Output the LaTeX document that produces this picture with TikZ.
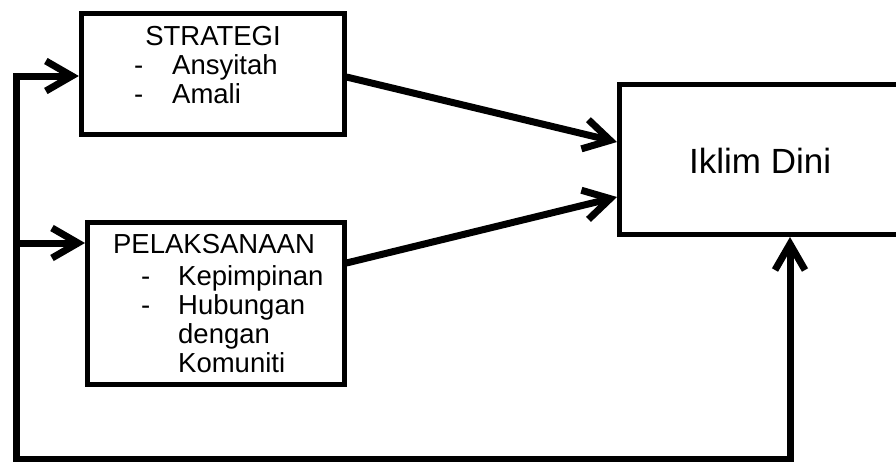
\documentclass[tikz,border=0pt]{standalone}
\usepackage{fontspec}
\setmainfont{Liberation Sans}
\usetikzlibrary{arrows.meta}
\begin{document}
\begin{tikzpicture}[x=1pt,y=-1pt,
  box/.style={draw, line width=5pt, inner sep=0pt, rectangle},
  tipa/.style={-{Straight Barb[length=26pt,width=30pt]}},
  conn/.style={line width=7pt, tipa},
  txt/.style={inner sep=0pt, anchor=base west, font=\fontsize{27.5}{32}\selectfont},
  ctxt/.style={inner sep=0pt, anchor=base, font=\fontsize{27.5}{32}\selectfont}]
\useasboundingbox (0,0) rectangle (896,461);
% boxes
\node[box, minimum width=262.7pt, minimum height=120.5pt] (strat) at (212.7,73.75) {};
\node[box, minimum width=256.5pt, minimum height=161.5pt] (pel) at (215.75,303.25) {};
\node[box, minimum width=290.5pt, minimum height=150.5pt] (iklim) at (764.75,159.25) {};
% texts
\node[ctxt] (t1) at (213,45) {STRATEGI};
\node[txt] (t2) at (134,74) {-};
\node[txt] (t3) at (172,74) {Ansyitah};
\node[txt] (t4) at (134,103) {-};
\node[txt] (t5) at (172,103) {Amali};
\node[ctxt] (p1) at (214,253) {PELAKSANAAN};
\node[txt] (p2) at (141,285) {-};
\node[txt] (p3) at (178,285) {Kepimpinan};
\node[txt] (p4) at (141,314) {-};
\node[txt] (p5) at (178,314) {Hubungan};
\node[txt] (p6) at (178,343) {dengan};
\node[txt] (p7) at (178,372) {Komuniti};
\node[inner sep=0pt, anchor=base west, font=\fontsize{35}{40}\selectfont] (k1) at (689,173) {Iklim Dini};
% coordinates
\coordinate (fbtop) at (16,76);
\coordinate (fbmid) at (16,243);
\coordinate (fbbot) at (16,459);
\coordinate (fbright) at (790,459);
\coordinate (s1) at (0,77);
\coordinate (s2) at (0,142);
\coordinate (s3) at (0,263);
\coordinate (s4) at (0,197);
% connectors
\draw[conn] (strat.east |- s1) -- (iklim.west |- s2);
\draw[conn] (pel.east |- s3) -- (iklim.west |- s4);
\draw[line width=7pt, {Straight Barb[length=26pt,width=30pt]}-{Straight Barb[length=26pt,width=30pt]}]
  (strat.west |- fbtop) -- (fbtop) -- (fbbot) -- (fbright) -- (iklim.south -| fbright);
\draw[conn] (fbmid) -- (pel.west |- fbmid);
\end{tikzpicture}
\end{document}
